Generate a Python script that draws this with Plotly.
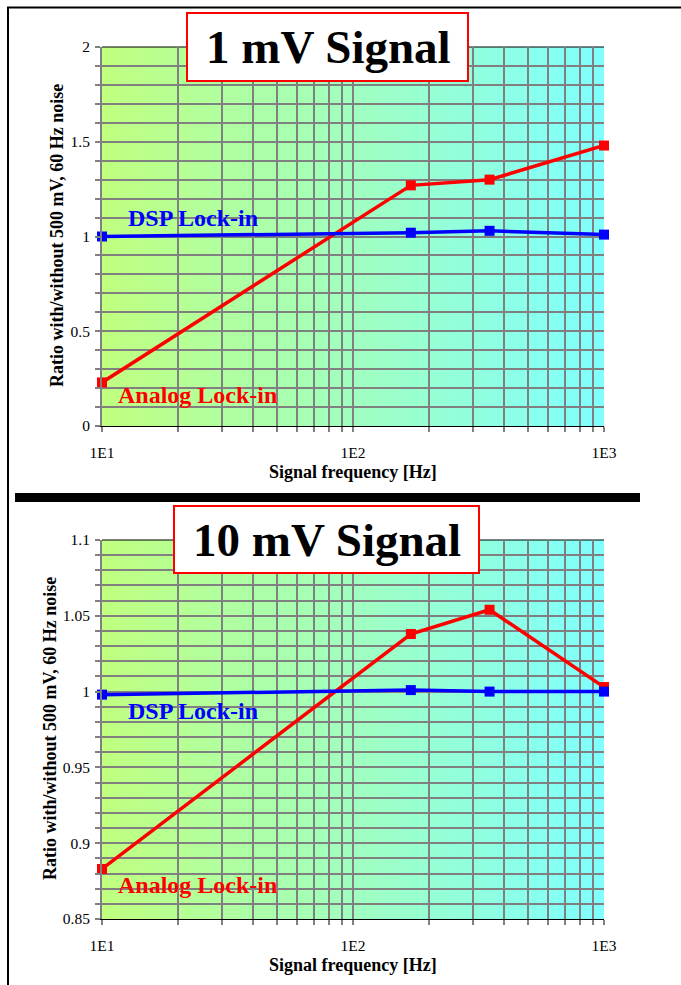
import plotly.graph_objects as go

# ---------------- data ----------------
freq_hz = [10, 170, 350, 1000]
analog_1mv = [0.23, 1.27, 1.30, 1.48]
dsp_1mv = [1.00, 1.02, 1.03, 1.01]
analog_10mv = [0.883, 1.038, 1.054, 1.003]
dsp_10mv = [0.998, 1.001, 1.000, 1.000]

titles = ["1 mV Signal", "10 mV Signal"]
x_title = "Signal frequency [Hz]"
y_title = "Ratio with/without 500 mV, 60 Hz noise"
series_names = ["Analog Lock-in", "DSP Lock-in"]

x_tickvals = [m * 10 ** e for e in (1, 2) for m in range(1, 10)] + [1000]
x_ticktext = {10: "1E1", 100: "1E2", 1000: "1E3"}

y1_tickvals = [round(i * 0.1, 2) for i in range(21)]
y1_major = [0.0, 0.5, 1.0, 1.5, 2.0]
y2_tickvals = [round(0.85 + i * 0.01, 2) for i in range(26)]
y2_major = [0.85, 0.9, 0.95, 1.0, 1.05, 1.1]

# --------------- layout helpers ---------------
W, H = 681, 985
def px(x):
    return x / W
def py(y):
    return 1 - y / H

SERIF = "Liberation Serif, Times New Roman, serif"
GRID = "#808080"

fig = go.Figure()

panels = [
    dict(x="x", y="y", a=analog_1mv, d=dsp_1mv),
    dict(x="x2", y="y2", a=analog_10mv, d=dsp_10mv),
]
for p in panels:
    fig.add_trace(go.Scatter(x=freq_hz, y=p["a"], mode="lines+markers", xaxis=p["x"], yaxis=p["y"],
                             line=dict(color="#ff0000", width=3.5),
                             marker=dict(symbol="square", size=10, color="#ff0000"),
                             name=series_names[0], showlegend=False, hoverinfo="x+y", cliponaxis=False))
    fig.add_trace(go.Scatter(x=freq_hz, y=p["d"], mode="lines+markers", xaxis=p["x"], yaxis=p["y"],
                             line=dict(color="#0000ff", width=3.5),
                             marker=dict(symbol="square", size=10, color="#0000ff"),
                             name=series_names[1], showlegend=False, hoverinfo="x+y", cliponaxis=False))

def xaxis_cfg(anchor, dom):
    return dict(type="log", range=[1, 3], domain=dom, anchor=anchor, automargin=False,
                tickvals=x_tickvals,
                ticktext=[x_ticktext.get(v, "") for v in x_tickvals],
                ticks="outside", ticklen=5, tickwidth=2, tickcolor=GRID,
                showgrid=True, gridcolor=GRID, gridwidth=2,
                showline=True, linecolor="black", linewidth=1,
                zeroline=False, ticklabelstandoff=7,
                tickfont=dict(family=SERIF, size=15.5, color="black"))

def yaxis_cfg(anchor, dom, rng, vals, major):
    return dict(range=rng, domain=dom, anchor=anchor, automargin=False,
                tickvals=vals,
                ticktext=[f"{v:g}" if any(abs(v - m) < 1e-9 for m in major) else "" for v in vals],
                ticks="outside", ticklen=5, tickwidth=2, tickcolor=GRID,
                showgrid=True, gridcolor=GRID, gridwidth=2,
                showline=True, linecolor=GRID, linewidth=2,
                zeroline=False, ticklabelstandoff=2,
                tickfont=dict(family=SERIF, size=15.5, color="black"))

xdom = [px(102), px(604)]
ydom1 = [py(426), py(47)]
ydom2 = [py(919), py(540)]

shapes = []
# gradient background strips
c0 = (192, 255, 128)
c1 = (128, 255, 255)
N = 80
for xa, ya in (("x", "y"), ("x2", "y2")):
    for i in range(N):
        t = (i + 0.5) / N
        col = tuple(round(c0[k] + (c1[k] - c0[k]) * t) for k in range(3))
        shapes.append(dict(type="rect", xref=f"{xa} domain", yref=f"{ya} domain",
                           x0=i / N, x1=min(1, (i + 1.6) / N), y0=0, y1=1,
                           fillcolor="rgb(%d,%d,%d)" % col, line=dict(width=0), layer="below"))
    # top plot-area border
    shapes.append(dict(type="line", xref=f"{xa} domain", yref=f"{ya} domain",
                       x0=0, x1=1, y0=1, y1=1, line=dict(color="black", width=1), layer="below"))

# outer frame (left and top)
shapes.append(dict(type="line", xref="paper", yref="paper", x0=px(8), x1=px(8), y0=py(7), y1=py(990),
                   line=dict(color="black", width=2)))
shapes.append(dict(type="line", xref="paper", yref="paper", x0=px(7), x1=px(690), y0=py(7.5), y1=py(7.5),
                   line=dict(color="black", width=2)))
# separator bar
shapes.append(dict(type="rect", xref="paper", yref="paper", x0=px(15), x1=px(640), y0=py(502), y1=py(493),
                   fillcolor="black", line=dict(width=0)))
# title boxes
shapes.append(dict(type="rect", xref="paper", yref="paper", x0=px(187), x1=px(468), y0=py(81), y1=py(13),
                   fillcolor="white", line=dict(color="#ff0000", width=2)))
shapes.append(dict(type="rect", xref="paper", yref="paper", x0=px(174), x1=px(479), y0=py(573), y1=py(506),
                   fillcolor="white", line=dict(color="#ff0000", width=2)))

annotations = []
def ann(text, x, y, size, color="black", xanchor="center", angle=0):
    annotations.append(dict(text=text, xref="paper", yref="paper", x=px(x), y=py(y),
                            xanchor=xanchor, yanchor="middle", showarrow=False, textangle=angle,
                            font=dict(family=SERIF, size=size, color=color)))

ann(f"<b>{titles[0]}</b>", 328, 47, 47)
ann(f"<b>{titles[1]}</b>", 327, 540, 47)
ann(f"<b>{x_title}</b>", 353, 472, 18)
ann(f"<b>{x_title}</b>", 353, 965, 18)
ann(f"<b>{y_title}</b>", 57, 236, 18, angle=-90)
ann(f"<b>{y_title}</b>", 50, 729, 18, angle=-90)
ann(f"<b>{series_names[1]}</b>", 126, 218, 24, color="#0000ff", xanchor="left")
ann(f"<b>{series_names[0]}</b>", 116, 395, 24, color="#ff0000", xanchor="left")
ann(f"<b>{series_names[1]}</b>", 126, 711, 24, color="#0000ff", xanchor="left")
ann(f"<b>{series_names[0]}</b>", 116, 885, 24, color="#ff0000", xanchor="left")

fig.update_layout(
    template="none",
    width=W, height=H, margin=dict(l=0, r=0, t=0, b=0, pad=0, autoexpand=False),
    paper_bgcolor="white", plot_bgcolor="white",
    xaxis=xaxis_cfg("y", xdom),
    yaxis=yaxis_cfg("x", ydom1, [0, 2], y1_tickvals, y1_major),
    xaxis2=xaxis_cfg("y2", xdom),
    yaxis2=yaxis_cfg("x2", ydom2, [0.85, 1.1], y2_tickvals, y2_major),
    shapes=shapes, annotations=annotations, showlegend=False,
)

fig.write_html("out.html", config={"displayModeBar": False})
